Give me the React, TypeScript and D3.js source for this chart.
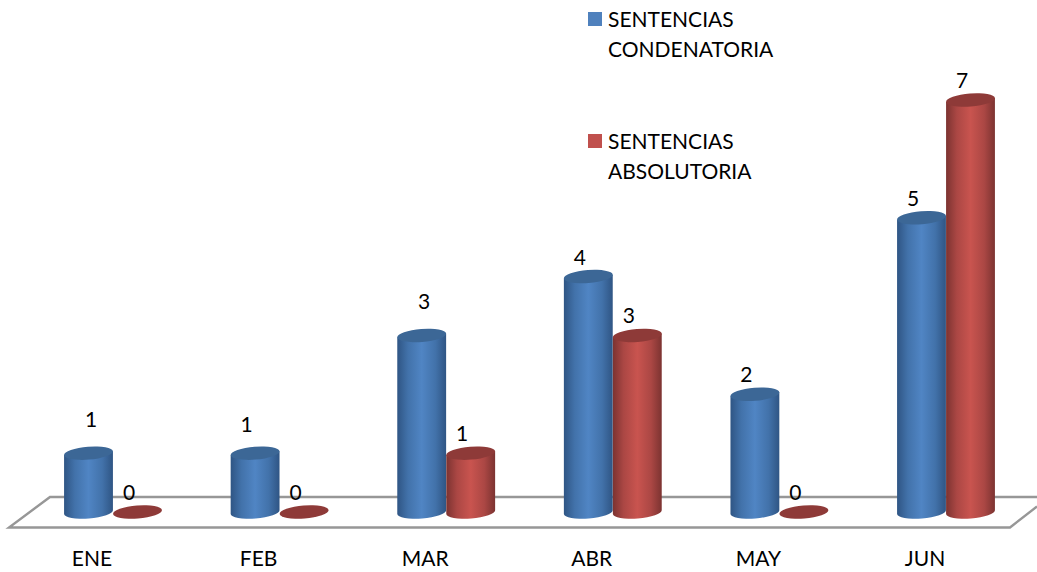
import * as d3 from 'd3';

const months = ['ENE', 'FEB', 'MAR', 'ABR', 'MAY', 'JUN'];
const condenatoria = [1, 1, 3, 4, 2, 5];
const absolutoria = [0, 0, 1, 3, 0, 7];

const width = 1037;
const height = 572;
const font = 'Lato, "Open Sans", sans-serif';

const x = d3.scaleBand<string>().domain(months).range([29.7, 1029.3]).padding(0);
const y = d3.scaleLinear().domain([0, 7]).range([512, 100]);

const barWidth = 49;
const rx = 24.5;
const ry = 6.5;
const tilt = -4.5;
const dxTilt = rx * Math.cos((tilt * Math.PI) / 180);
const dyTilt = rx * Math.sin((tilt * Math.PI) / 180);

// the first three blue labels sit higher than the rest in the original
const labelNudge: Record<string, [number, number]> = {
  ENE: [11, -14],
  FEB: [0, -9],
  MAR: [11, -14],
};

const series = [
  { name: ['SENTENCIAS', 'CONDENATORIA'], values: condenatoria, id: 'blue', swatch: '#4f81bd', top: '#3c6796', legendY: 12 },
  { name: ['SENTENCIAS', 'ABSOLUTORIA'], values: absolutoria, id: 'red', swatch: '#c0504d', top: '#8e3a38', legendY: 134 },
];

const body = (cx: number, topY: number) => {
  const p = d3.path();
  p.moveTo(cx - dxTilt, topY - dyTilt);
  p.lineTo(cx - dxTilt, y(0) - dyTilt);
  const bottom = `A${rx},${ry} ${tilt} 0 0 ${cx + dxTilt},${y(0) + dyTilt}`;
  return `${p.toString()}${bottom}L${cx + dxTilt},${topY + dyTilt}Z`;
};

const Cylinder = ({ cx, value, s }: { cx: number; value: number; s: (typeof series)[number] }) => {
  const topY = y(value);
  return (
    <g>
      {value > 0 && <path d={body(cx, topY)} fill={`url(#${s.id})`} />}
      <ellipse cx={cx} cy={topY} rx={rx} ry={ry} fill={s.top} transform={`rotate(${tilt} ${cx} ${topY})`} />
    </g>
  );
};

export default function App() {
  const floor = d3.line()([
    [1037, 497],
    [50, 497],
    [9, 527.5],
    [1010, 527.5],
    [1037, 506.5],
  ]);

  return (
    <svg
      width={width}
      height={height}
      style={{ position: 'absolute', left: 0, top: 0, background: '#fff' }}
      fontFamily={font}
    >
      <defs>
        <linearGradient id="blue" x1="0" x2="1" y1="0" y2="0">
          <stop offset="0" stopColor="#2f5584" />
          <stop offset="0.22" stopColor="#4272aa" />
          <stop offset="0.5" stopColor="#5085c4" />
          <stop offset="0.78" stopColor="#4272aa" />
          <stop offset="1" stopColor="#2f5584" />
        </linearGradient>
        <linearGradient id="red" x1="0" x2="1" y1="0" y2="0">
          <stop offset="0" stopColor="#7c3331" />
          <stop offset="0.22" stopColor="#ab4744" />
          <stop offset="0.5" stopColor="#c9544f" />
          <stop offset="0.78" stopColor="#ab4744" />
          <stop offset="1" stopColor="#7c3331" />
        </linearGradient>
      </defs>

      <path d={floor ?? ''} fill="none" stroke="#979797" strokeWidth={2.4} />

      {months.map((m, i) => {
        const center = (x(m) ?? 0) + x.bandwidth() / 2;
        return (
          <g key={m}>
            <Cylinder cx={center - barWidth / 2} value={condenatoria[i]} s={series[0]} />
            <Cylinder cx={center + barWidth / 2} value={absolutoria[i]} s={series[1]} />
          </g>
        );
      })}

      {months.map((m, i) => {
        const center = (x(m) ?? 0) + x.bandwidth() / 2;
        const [nx, ny] = labelNudge[m] ?? [0, 0];
        return (
          <g key={m} fontSize={21} fill="#000" textAnchor="middle">
            <text x={center - barWidth / 2 - 8.5 + nx} y={y(condenatoria[i]) - 12 + ny}>
              {condenatoria[i]}
            </text>
            <text x={center + barWidth / 2 - 8.5} y={y(absolutoria[i]) - 12}>
              {absolutoria[i]}
            </text>
            <text x={center - 21} y={566}>
              {m}
            </text>
          </g>
        );
      })}

      {series.map((s) => (
        <g key={s.id}>
          <rect x={588} y={s.legendY} width={14} height={14} fill={s.swatch} />
          {s.name.map((line, i) => (
            <text key={line} x={608} y={s.legendY + 15 + i * 30} fontSize={21} fill="#000">
              {line}
            </text>
          ))}
        </g>
      ))}
    </svg>
  );
}
